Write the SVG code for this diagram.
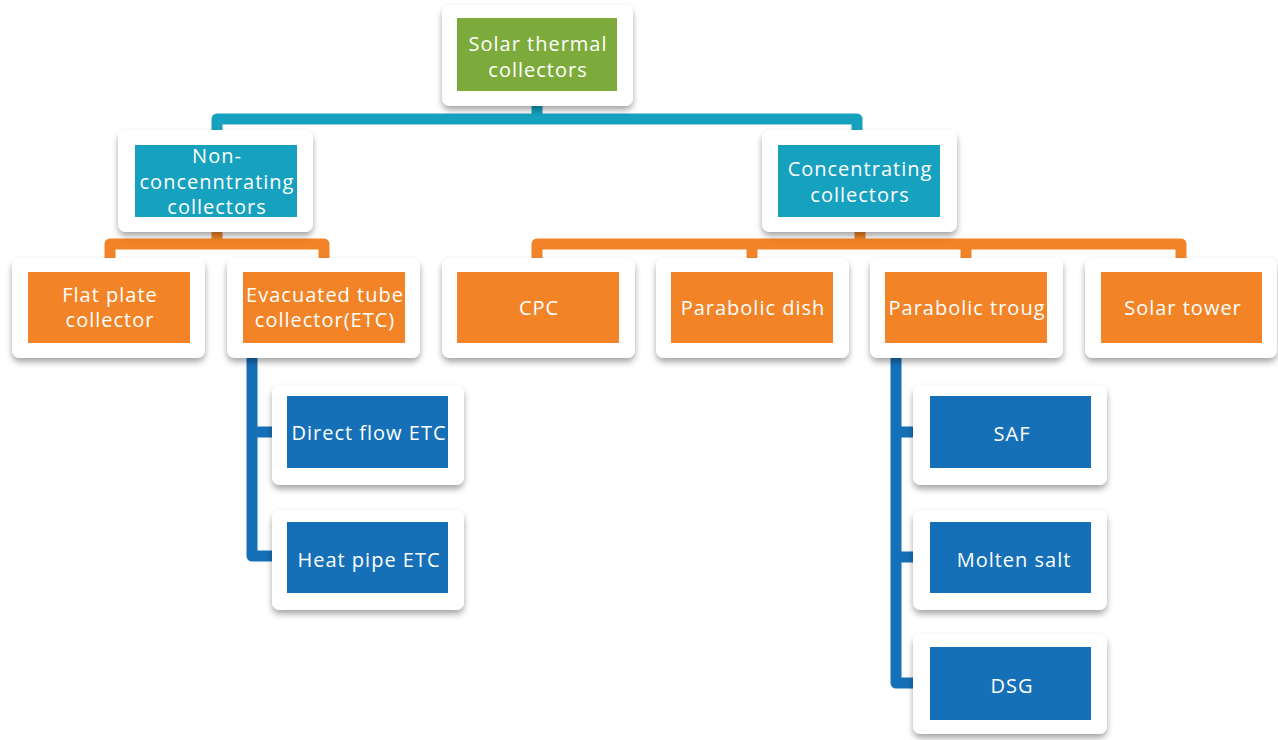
<svg xmlns="http://www.w3.org/2000/svg" width="1278" height="740" viewBox="0 0 1278 740">
<defs>
<filter id="sh" x="-10%" y="-10%" width="120%" height="130%">
<feDropShadow dx="0" dy="4" stdDeviation="3" flood-color="#000" flood-opacity="0.35"/>
</filter>
</defs>
<style>
.card{fill:#fff;filter:url(#sh)}
.t{font-family:"Open Sans","Noto Sans",sans-serif;font-size:20px;letter-spacing:1px;fill:#fff;text-anchor:middle}
.green{fill:#7dab3b}
.teal{fill:#16a1bf}
.orange{fill:#f28427}
.blue{fill:#1570b8}
.c{fill:none;stroke-width:11;stroke-linejoin:round}
</style>
<rect width="1278" height="740" fill="#fff"/>
<g id="connectors">
<path class="c" stroke="#16a1bf" d="M217,135 V119 H857 V135 M537,100 V119"/>
<path class="c" stroke="#f28427" d="M110,258 V244 H324 V258 M217,225 V244"/>
<path class="c" stroke="#f28427" d="M537,258 V244 H1181 V258 M752,244 V258 M966,244 V258 M860,225 V244"/>
<path class="c" stroke="#1570b8" d="M252,350 V556 H276 M252,432 H276"/>
<path class="c" stroke="#1570b8" d="M896,350 V683 H917 M896,432 H917 M896,557 H917"/>
</g>
<g id="solar-thermal">
<rect class="card" x="442" y="5" width="191" height="101" rx="8"/>
<rect class="green" x="457" y="18" width="160" height="73"/>
<text class="t" x="538" y="51">Solar thermal</text>
<text class="t" x="538" y="77">collectors</text>
</g>
<g id="non-concentrating">
<rect class="card" x="118" y="130" width="195" height="102" rx="8"/>
<rect class="teal" x="135" y="145" width="162" height="72"/>
<text class="t" x="217" y="163">Non-</text>
<text class="t" x="217" y="189">concenntrating</text>
<text class="t" x="217" y="214">collectors</text>
</g>
<g id="concentrating">
<rect class="card" x="762" y="130" width="195" height="102" rx="8"/>
<rect class="teal" x="778" y="145" width="162" height="72"/>
<text class="t" x="860" y="176">Concentrating</text>
<text class="t" x="860" y="202">collectors</text>
</g>
<g id="flat-plate">
<rect class="card" x="12" y="258" width="193" height="100" rx="8"/>
<rect class="orange" x="28" y="272" width="162" height="71"/>
<text class="t" x="110" y="302">Flat plate</text>
<text class="t" x="110" y="327">collector</text>
</g>
<g id="evacuated-tube">
<rect class="card" x="227" y="258" width="193" height="100" rx="8"/>
<rect class="orange" x="243" y="272" width="162" height="71"/>
<text class="t" x="325" y="302">Evacuated tube</text>
<text class="t" x="325" y="327">collector(ETC)</text>
</g>
<g id="cpc">
<rect class="card" x="442" y="258" width="193" height="100" rx="8"/>
<rect class="orange" x="457" y="272" width="162" height="71"/>
<text class="t" x="539" y="315">CPC</text>
</g>
<g id="parabolic-dish">
<rect class="card" x="656" y="258" width="193" height="100" rx="8"/>
<rect class="orange" x="671" y="272" width="162" height="71"/>
<text class="t" x="753" y="315">Parabolic dish</text>
</g>
<g id="parabolic-trough">
<rect class="card" x="870" y="258" width="193" height="100" rx="8"/>
<rect class="orange" x="885" y="272" width="162" height="71"/>
<text class="t" x="967" y="315">Parabolic troug</text>
</g>
<g id="solar-tower">
<rect class="card" x="1085" y="258" width="192" height="100" rx="8"/>
<rect class="orange" x="1101" y="272" width="161" height="71"/>
<text class="t" x="1183" y="315">Solar tower</text>
</g>
<g id="direct-flow">
<rect class="card" x="272" y="385" width="192" height="100" rx="8"/>
<rect class="blue" x="287" y="396" width="161" height="72"/>
<text class="t" x="369" y="440">Direct flow ETC</text>
</g>
<g id="heat-pipe">
<rect class="card" x="272" y="510" width="192" height="100" rx="8"/>
<rect class="blue" x="287" y="522" width="161" height="71"/>
<text class="t" x="369" y="567">Heat pipe ETC</text>
</g>
<g id="saf">
<rect class="card" x="913" y="385" width="194" height="100" rx="8"/>
<rect class="blue" x="930" y="396" width="161" height="72"/>
<text class="t" x="1012" y="441">SAF</text>
</g>
<g id="molten-salt">
<rect class="card" x="913" y="510" width="194" height="100" rx="8"/>
<rect class="blue" x="930" y="522" width="161" height="71"/>
<text class="t" x="1014" y="567">Molten salt</text>
</g>
<g id="dsg">
<rect class="card" x="913" y="634" width="194" height="100" rx="8"/>
<rect class="blue" x="930" y="647" width="161" height="73"/>
<text class="t" x="1012" y="693">DSG</text>
</g>
</svg>
